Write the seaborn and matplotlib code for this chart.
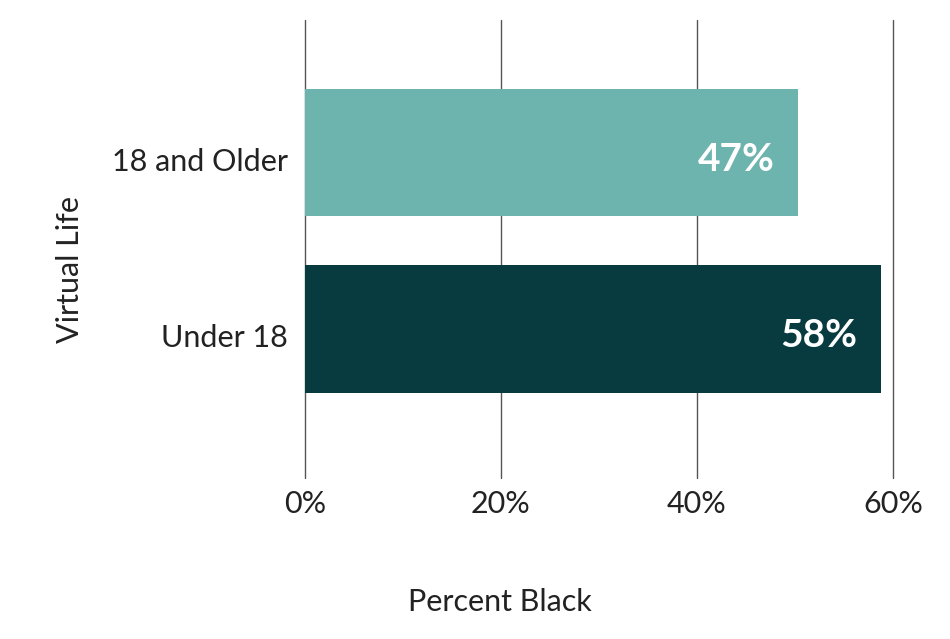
import matplotlib
matplotlib.use("Agg")
import matplotlib.pyplot as plt
import matplotlib.transforms as mtransforms
import seaborn as sns
import pandas as pd

# data
groups = ["18 and Older", "Under 18"]
bar_values = [50.3, 58.8]          # bar lengths as drawn (percent)
value_labels = ["47%", "58%"]      # labels printed on the bars
bar_colors = ["#6db3ae", "#073b40"]
x_ticks = [0, 20, 40, 60]

df = pd.DataFrame({"group": groups, "pct": bar_values})

sns.set_theme(style="white")
plt.rcParams["font.family"] = ["Lato", "DejaVu Sans"]

fig = plt.figure(figsize=(9.5, 6.39), dpi=100)
ax = fig.add_axes([0.321, 0.252, 0.619, 0.717])

sns.barplot(data=df, x="pct", y="group", hue="group", palette=bar_colors,
            orient="h", width=0.72, legend=False, ax=ax, saturation=1,
            linewidth=0)

ax.set_xlim(0, 60)
ax.set_ylim(1.844, -0.751)
ax.set_xticks(x_ticks)
ax.set_xticklabels([f"{t}%" for t in x_ticks])
ax.grid(axis="x", color="#555555", linewidth=1.0)
for gl in ax.xaxis.get_gridlines():
    gl.set_clip_on(False)
ax.set_axisbelow(True)
for s in ax.spines.values():
    s.set_visible(False)
ax.tick_params(axis="both", length=0, labelsize=22, colors="#222222")
ax.tick_params(axis="x", pad=9)
ax.tick_params(axis="y", pad=12)

# nudge the category labels down a little, as in the original
shift = mtransforms.ScaledTranslation(0, -5 / 72, fig.dpi_scale_trans)
for lab in ax.get_yticklabels():
    lab.set_transform(lab.get_transform() + shift)

for i, (v, lab) in enumerate(zip(bar_values, value_labels)):
    ax.annotate(lab, xy=(v, i), xytext=(-17, -5), textcoords="offset points",
                ha="right", va="center", color="white", fontsize=28,
                fontweight="bold")

ax.set_xlabel("Percent Black", fontsize=22, color="#222222")
ax.xaxis.set_label_coords(0.332, -0.241)
ax.set_ylabel("Virtual Life", fontsize=22, color="#222222")
ax.yaxis.set_label_coords(-0.376, 0.454)

fig.savefig("out.png", dpi=100)
